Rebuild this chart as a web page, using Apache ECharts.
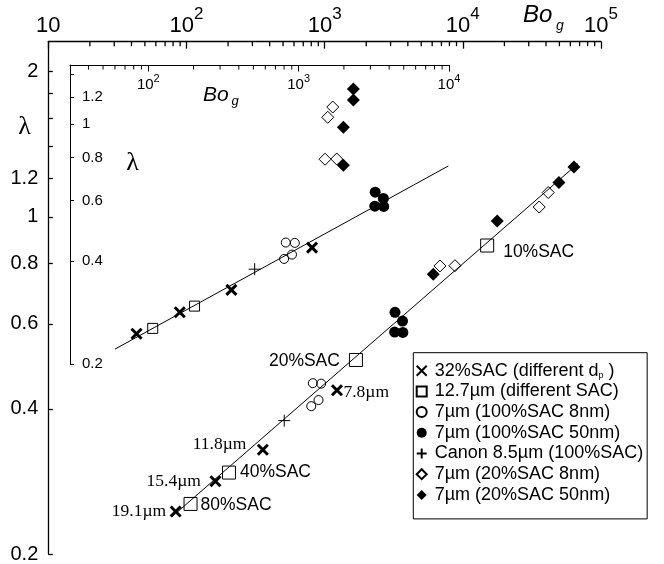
<!DOCTYPE html>
<html>
<head>
<meta charset="utf-8">
<title>lambda vs Bo_g</title>
<script src="https://cdn.jsdelivr.net/npm/echarts@6/dist/echarts.min.js"></script>
<style>
  html, body { margin: 0; padding: 0; background: #fff; }
  #chart { width: 664px; height: 564px; }
</style>
</head>
<body>
<div id="chart"></div>
<script>
  // values: Bo_g (x) and lambda (y)
  // 32%SAC, different dp
  const crossBo = [83.5, 162, 357, 1228];
  const crossLam = [0.245, 0.283, 0.329, 0.437];
  const crossTags = ['19.1µm', '15.4µm', '11.8µm', '7.8µm'];
  // 12.7µm, different SAC (inset only has the first two)
  const squareBo = [107, 203, 1684, 15000];
  const squareLam = [0.254, 0.295, 0.505, 0.872];
  const squareTags = ['80%SAC', '40%SAC', '20%SAC', '10%SAC'];
  // 7µm 100%SAC 8nm
  const circleBo = [821, 943, 800, 903];
  const circleLam = [0.452, 0.451, 0.405, 0.417];
  // 7µm 100%SAC 50nm
  const dotBo = [3230, 3660, 3210, 3680];
  const dotLam = [0.634, 0.608, 0.577, 0.576];
  // Canon 8.5µm
  const plusBo = [510];
  const plusLam = [0.378];
  // 7µm 20%SAC 8nm
  const openDiaBo = [6830, 8770, 35700, 41500];
  const openDiaBoInset = [1498, 1793, 1562, 1686];
  const openDiaLam = [0.791, 0.792, 1.048, 1.123];
  // 7µm 20%SAC 50nm
  const fillDiaBo = [6107, 17740, 49600, 63700];
  const fillDiaBoInset = [1984, 1984, 2312, 2312];
  const fillDiaLam = [0.760, 0.980, 1.178, 1.268];
  // fitted lines
  const fitBo = [78.5, 68060];
  const fitLam = [0.239, 1.289];
  const fitInsetBo = [60, 9900];
  const fitInsetLam = [0.221, 0.756];

  // ticks
  const mainXMajor = [10, 100, 1000, 10000, 100000];
  const insetXMajor = [100, 1000, 10000];
  const minorSteps = [2, 3, 4, 5, 6, 7, 8, 9];
  const mainYTicks = [0.2, 0.4, 0.6, 0.8, 1, 1.2, 1.4, 1.6, 1.8, 2];
  const mainYLabels = [0.2, 0.4, 0.6, 0.8, 1, 1.2, 2];
  const insetYTicks = [0.2, 0.4, 0.6, 0.8, 1, 1.2, 1.4];
  const insetYLabels = [0.2, 0.4, 0.6, 0.8, 1, 1.2];

  const names = [
    '32%SAC (different dp )',
    '12.7µm (different SAC)',
    '7µm (100%SAC 8nm)',
    '7µm (100%SAC 50nm)',
    'Canon 8.5µm (100%SAC)',
    '7µm (20%SAC 8nm)',
    '7µm (20%SAC 50nm)'
  ];

  const lg = Math.log10;
  const SANS = 'Liberation Sans, Arial, sans-serif';
  const SERIF = 'Liberation Serif, Times New Roman, serif';
  const CROSS = 'path://M0,0L10,10M10,0L0,10';
  const PLUS = 'path://M5,0L5,10M0,5L10,5';

  const mainYMax = lg(2.307);
  const insetYMax = 0.1729;
  const insetXMin = 4 - 379 / 150.35;

  function pts(xs, ys) {
    return xs.map((x, i) => [lg(x), lg(ys[i])]);
  }
  function minors(from, to) {
    let out = [];
    for (let d = from; d < to; d *= 10) {
      minorSteps.forEach(s => out.push(lg(s * d)));
    }
    return out;
  }

  // where the annotation next to a point goes
  const tagPlace = {
    '19.1µm': {position: 'left', distance: 3, offset: [0, 0]},
    '15.4µm': {position: 'left', distance: 8, offset: [0, 0]},
    '11.8µm': {position: 'left', distance: 10, offset: [0, -5]},
    '7.8µm': {position: 'right', distance: 0, offset: [0, 2]},
    '80%SAC': {position: 'right', distance: 3, offset: [0, 1]},
    '40%SAC': {position: 'right', distance: 4, offset: [0, 0]},
    '20%SAC': {position: 'left', distance: 9, offset: [0, 1]},
    '10%SAC': {position: 'right', distance: 9, offset: [0, 7]}
  };

  function tagged(xs, ys, tags, font) {
    return xs.map((x, i) => ({
      value: [lg(x), lg(ys[i])],
      label: Object.assign({
        show: true,
        formatter: tags[i],
        color: '#000',
        fontFamily: font,
        fontSize: 17.5
      }, tagPlace[tags[i]])
    }));
  }

  const open = {color: 'transparent', borderColor: '#000', borderWidth: 1, opacity: 1};
  const solid = {color: '#000', borderColor: '#000', borderWidth: 0, opacity: 1};

  function markSeries(xi, yi, big) {
    return [
      {name: names[0], type: 'scatter', xAxisIndex: xi, yAxisIndex: yi, symbol: CROSS, symbolSize: 10,
        itemStyle: {color: '#000', borderColor: '#000', borderWidth: 3, opacity: 1},
        data: big ? tagged(crossBo, crossLam, crossTags, SERIF) : pts(crossBo, crossLam)},
      {name: names[1], type: 'scatter', xAxisIndex: xi, yAxisIndex: yi, symbol: 'rect', symbolSize: big ? 13 : 10,
        itemStyle: open,
        data: big ? tagged(squareBo, squareLam, squareTags, SANS) : pts(squareBo.slice(0, 2), squareLam.slice(0, 2))},
      {name: names[2], type: 'scatter', xAxisIndex: xi, yAxisIndex: yi, symbol: 'circle', symbolSize: 9,
        itemStyle: open, data: pts(circleBo, circleLam)},
      {name: names[3], type: 'scatter', xAxisIndex: xi, yAxisIndex: yi, symbol: 'circle', symbolSize: 11,
        itemStyle: solid, data: pts(dotBo, dotLam)},
      {name: names[4], type: 'scatter', xAxisIndex: xi, yAxisIndex: yi, symbol: PLUS, symbolSize: 12,
        itemStyle: {color: '#000', borderColor: '#000', borderWidth: 1, opacity: 1}, data: pts(plusBo, plusLam)},
      {name: names[5], type: 'scatter', xAxisIndex: xi, yAxisIndex: yi, symbol: 'diamond', symbolSize: 12,
        itemStyle: open, data: pts(big ? openDiaBo : openDiaBoInset, openDiaLam)},
      {name: names[6], type: 'scatter', xAxisIndex: xi, yAxisIndex: yi, symbol: 'diamond', symbolSize: 13,
        itemStyle: solid, data: pts(big ? fillDiaBo : fillDiaBoInset, fillDiaLam)}
    ];
  }

  // short log ticks hanging from the top edge, placed through the axes
  function minorTickSeries(xi, yi, values, top, size) {
    return {
      name: 'minor ticks', type: 'scatter', xAxisIndex: xi, yAxisIndex: yi, silent: true, clip: false,
      symbol: 'rect', symbolSize: size, symbolOffset: [0, size[1] / 2],
      itemStyle: {color: '#000', opacity: 1},
      data: values.map(v => [v, top])
    };
  }

  const line = {color: '#000', width: 1.3};
  const thin = {color: '#000', width: 1};

  const chart = echarts.init(document.getElementById('chart'));
  chart.setOption({
    animation: false,
    backgroundColor: '#fff',
    grid: [
      {left: 48.3, top: 41.7, width: 552.7, height: 513},
      {left: 70, top: 65, width: 379, height: 299}
    ],
    xAxis: [
      {
        type: 'value', gridIndex: 0, position: 'top', min: 1, max: 5,
        axisLine: {onZero: false, lineStyle: line},
        axisTick: {inside: true, length: 7, customValues: mainXMajor.map(lg), lineStyle: line},
        axisLabel: {
          customValues: mainXMajor.map(lg), margin: -5, color: '#000', fontFamily: SANS, fontSize: 22,
          formatter: v => Math.round(v) === 1 ? '{b|10}' : '{b|10}{sup|' + Math.round(v) + '}',
          rich: {b: {fontSize: 22, lineHeight: 41}, sup: {fontSize: 17, lineHeight: 17, verticalAlign: 'top'}}
        },
        splitLine: {show: false}
      },
      {
        type: 'value', gridIndex: 1, position: 'top', min: insetXMin, max: 4,
        axisLine: {onZero: false, lineStyle: thin},
        axisTick: {inside: true, length: 6.5, customValues: insetXMajor.map(lg), lineStyle: thin},
        axisLabel: {
          inside: true, customValues: insetXMajor.map(lg), margin: 8.5, color: '#000', fontFamily: SANS, fontSize: 15,
          formatter: v => '{b|10}{sup|' + Math.round(v) + '}',
          rich: {b: {fontSize: 15, lineHeight: 23}, sup: {fontSize: 11, lineHeight: 11, verticalAlign: 'top'}}
        },
        splitLine: {show: false}
      }
    ],
    yAxis: [
      {
        type: 'value', gridIndex: 0, min: lg(0.2), max: mainYMax,
        axisLine: {onZero: false, lineStyle: line},
        axisTick: {inside: true, length: 4.5, customValues: mainYTicks.map(lg), lineStyle: line},
        axisLabel: {
          customValues: mainYLabels.map(lg), margin: 10, color: '#000', fontFamily: SANS, fontSize: 20,
          formatter: v => String(Math.round(Math.pow(10, v) * 10) / 10)
        },
        splitLine: {show: false}
      },
      {
        type: 'value', gridIndex: 1, min: lg(0.2), max: insetYMax,
        axisLine: {onZero: false, lineStyle: thin},
        axisTick: {inside: true, length: 4, customValues: insetYTicks.map(lg), lineStyle: thin},
        axisLabel: {
          inside: true, customValues: insetYLabels.map(lg), margin: 12, color: '#000', fontFamily: SANS, fontSize: 15,
          formatter: v => String(Math.round(Math.pow(10, v) * 10) / 10)
        },
        splitLine: {show: false}
      }
    ],
    legend: {
      orient: 'vertical', left: 413.3, top: 352.7,
      padding: [9, 4, 15, 2.4],
      itemWidth: 10, itemHeight: 10, itemGap: 2.7,
      borderColor: '#000', borderWidth: 1, backgroundColor: '#fff',
      selectedMode: false,
      textStyle: {
        fontFamily: SANS, fontSize: 18, color: '#000', lineHeight: 18, padding: [0, 0, 0, 3],
        rich: {sub: {fontSize: 9, lineHeight: 9, verticalAlign: 'bottom'}}
      },
      formatter: n => n.replace('dp', 'd{sub|p}'),
      data: names.map((n, i) => i === 0 ? {name: n, itemStyle: {borderWidth: 2}} : {name: n})
    },
    graphic: [
      {type: 'text', x: 24.5, y: 127.5, style: {text: 'λ', font: '26px ' + SERIF, fill: '#000',
        align: 'center', verticalAlign: 'middle', textAlign: 'center', textVerticalAlign: 'middle'}},
      {type: 'text', x: 132.5, y: 163.5, style: {text: 'λ', font: '26px ' + SERIF, fill: '#000',
        align: 'center', verticalAlign: 'middle', textAlign: 'center', textVerticalAlign: 'middle'}},
      {type: 'text', x: 523, y: 15.5, style: {text: 'Bo', font: 'italic 24px ' + SANS, fill: '#000',
        align: 'left', verticalAlign: 'middle', textAlign: 'left', textVerticalAlign: 'middle'}},
      {type: 'text', x: 556, y: 26, style: {text: 'g', font: 'italic 14px ' + SANS, fill: '#000',
        align: 'left', verticalAlign: 'middle', textAlign: 'left', textVerticalAlign: 'middle'}},
      {type: 'text', x: 203, y: 95.5, style: {text: 'Bo', font: 'italic 21px ' + SANS, fill: '#000',
        align: 'left', verticalAlign: 'middle', textAlign: 'left', textVerticalAlign: 'middle'}},
      {type: 'text', x: 231.5, y: 101, style: {text: 'g', font: 'italic 13px ' + SANS, fill: '#000',
        align: 'left', verticalAlign: 'middle', textAlign: 'left', textVerticalAlign: 'middle'}}
    ],
    series: [
      minorTickSeries(0, 0, minors(10, 100000), mainYMax, [1.3, 4.5]),
      minorTickSeries(1, 1, minors(10, 10000).filter(v => v > insetXMin + 0.01), insetYMax, [1, 4.5]),
      {name: 'fit', type: 'line', xAxisIndex: 0, yAxisIndex: 0, symbol: 'none', silent: true,
        lineStyle: {color: '#000', width: 1}, data: pts(fitBo, fitLam)},
      {name: 'fit inset', type: 'line', xAxisIndex: 1, yAxisIndex: 1, symbol: 'none', silent: true,
        lineStyle: {color: '#000', width: 1}, data: pts(fitInsetBo, fitInsetLam)}
    ].concat(markSeries(0, 0, true), markSeries(1, 1, false))
  });
</script>
</body>
</html>
